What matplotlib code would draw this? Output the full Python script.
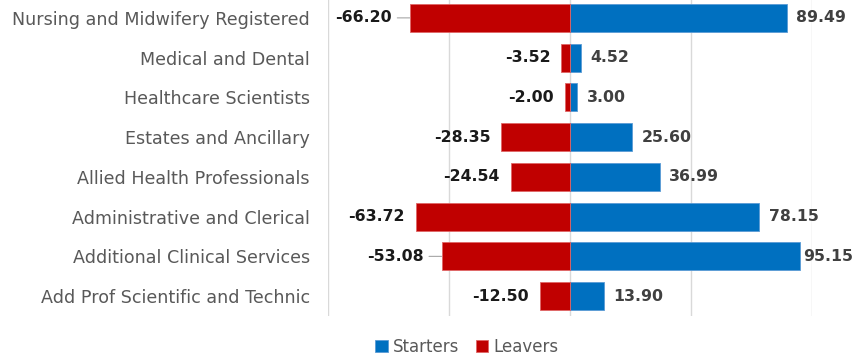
import numpy as np
import matplotlib
matplotlib.use('Agg')
import matplotlib.pyplot as plt

categories = ['Nursing and Midwifery Registered', 'Medical and Dental', 'Healthcare Scientists',
              'Estates and Ancillary', 'Allied Health Professionals', 'Administrative and Clerical',
              'Additional Clinical Services', 'Add Prof Scientific and Technic']
starters = [89.49, 4.52, 3.00, 25.60, 36.99, 78.15, 95.15, 13.90]
leavers = [-66.20, -3.52, -2.00, -28.35, -24.54, -63.72, -53.08, -12.50]

blue = '#0070C0'
red = '#C00000'

fig = plt.figure(figsize=(8.6, 3.55), dpi=100)
ax = fig.add_axes([328/860, 1-316/355, (812-328)/860, 316/355 + 2/355])

y = np.arange(len(categories))
ax.barh(y, starters, height=0.7, color=blue, edgecolor='#5B9BD5', linewidth=0.6, label='Starters', zorder=2)
ax.barh(y, leavers, height=0.7, color=red, edgecolor='#E06666', linewidth=0.6, label='Leavers', zorder=2)

ax.set_xlim(-100, 100)
ax.set_ylim(len(categories) - 0.5, -0.5)
ax.set_xticks([-100, -50, 0, 50, 100])
ax.set_xticklabels([])
ax.tick_params(axis='x', length=0)
ax.tick_params(axis='y', length=0, pad=13, labelsize=12.6, labelcolor='#595959')
ax.set_yticks(y)
ax.set_yticklabels(categories)
ax.grid(axis='x', color='#D9D9D9', linewidth=1, zorder=0)
for s in ax.spines.values():
    s.set_visible(False)

# value labels; the crowded ones sit further out with a short leader line,
# the longest starters bar keeps its label tight against the bar
for i, (s, l) in enumerate(zip(starters, leavers)):
    ax.annotate(f'{s:.2f}', (s, i), xytext=(2 if i == 6 else 7, 0), textcoords='offset points',
                ha='left', va='center', fontsize=11.3, fontweight='bold', color='#404040',
                annotation_clip=False)
    far = i in (0, 6)
    off = -13 if far else -8
    ax.annotate(f'{l:.2f}', (l, i), xytext=(off, 0), textcoords='offset points',
                ha='right', va='center', fontsize=11.3, fontweight='bold', color='#1a1a1a',
                arrowprops=dict(arrowstyle='-', color='#A6A6A6', lw=0.8, shrinkA=2, shrinkB=0) if far else None,
                annotation_clip=False)

fig.legend(loc='center', bbox_to_anchor=(467/860, 1-347/355), ncol=2, frameon=False,
           fontsize=12, labelcolor='#595959', handlelength=0.75, handleheight=0.75,
           handletextpad=0.3, columnspacing=1.0)

fig.savefig('out.png', dpi=100)
